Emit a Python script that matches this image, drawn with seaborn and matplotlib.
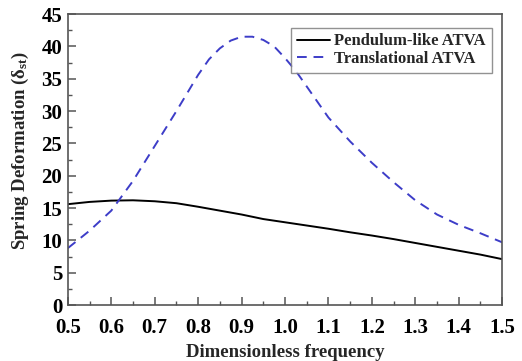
import numpy as np
import pandas as pd
import matplotlib
matplotlib.use("Agg")
import matplotlib.pyplot as plt
import seaborn as sns
from matplotlib.ticker import MultipleLocator

# Dimensionless frequency grid
freq = [0.50, 0.55, 0.60, 0.65, 0.70, 0.75, 0.80, 0.825, 0.85, 0.875, 0.90, 0.925,
        0.95, 0.975, 1.00, 1.025, 1.05, 1.10, 1.15, 1.20, 1.25, 1.30, 1.35, 1.40,
        1.45, 1.50]

# Spring deformation of the pendulum-like absorber
pendulum = [15.6, 15.95, 16.15, 16.2, 16.05, 15.75, 15.2, 14.9, 14.6, 14.3, 14.0, 13.65,
            13.3, 13.05, 12.8, 12.55, 12.3, 11.8, 11.25, 10.75, 10.2, 9.6, 9.0, 8.4,
            7.8, 7.1]

# Spring deformation of the translational absorber
translational = [8.8, 11.5, 14.6, 19.2, 24.6, 30.0, 35.6, 38.0, 39.7, 40.9, 41.5, 41.5,
                 41.0, 40.0, 38.2, 36.2, 33.8, 29.0, 25.3, 22.0, 19.0, 16.2, 14.0, 12.4,
                 11.1, 9.7]

series_names = ["Pendulum-like ATVA", "Translational ATVA"]
x_ticks = [0.5, 0.6, 0.7, 0.8, 0.9, 1.0, 1.1, 1.2, 1.3, 1.4, 1.5]
y_ticks = [0, 5, 10, 15, 20, 25, 30, 35, 40, 45]

df = pd.DataFrame({
    "freq": freq * 2,
    "value": pendulum + translational,
    "series": [series_names[0]] * len(freq) + [series_names[1]] * len(freq),
})

sns.set_theme(style="ticks")
plt.rcParams["font.family"] = ["Liberation Serif", "DejaVu Serif"]
plt.rcParams["font.weight"] = "bold"
plt.rcParams["mathtext.fontset"] = "custom"
plt.rcParams["mathtext.rm"] = "Liberation Serif:bold"
plt.rcParams["mathtext.it"] = "Liberation Serif:bold"
plt.rcParams["mathtext.bf"] = "Liberation Serif:bold"

fig = plt.figure(figsize=(5.22, 3.61), dpi=100)
ax = fig.add_axes([0.130, 0.155, 0.832, 0.806])

sns.lineplot(data=df, x="freq", y="value", hue="series", style="series",
             palette={series_names[0]: "black", series_names[1]: "#3d3dc8"},
             dashes={series_names[0]: "", series_names[1]: (5, 3.5)},
             linewidth=1.4, ax=ax, legend=True)

ax.set_xlim(0.5, 1.5)
ax.set_ylim(0, 45)
ax.set_xticks(x_ticks)
ax.set_xticklabels([f"{t:.1f}" for t in x_ticks])
ax.set_yticks(y_ticks)
ax.set_yticklabels([str(t) for t in y_ticks])
ax.xaxis.set_minor_locator(MultipleLocator(0.05))
ax.yaxis.set_minor_locator(MultipleLocator(2.5))

spine_color = "#555555"
for s in ax.spines.values():
    s.set_visible(True)
    s.set_color(spine_color)
    s.set_linewidth(1.2)

ax.tick_params(axis="both", which="major", direction="in", length=6, width=1.1,
               color=spine_color, labelcolor="black", labelsize=15,
               bottom=True, left=True, top=False, right=False)
ax.tick_params(axis="x", which="major", pad=9)
ax.tick_params(axis="y", which="major", pad=4)
ax.tick_params(axis="both", which="minor", direction="in", length=3, width=1.0,
               color=spine_color, bottom=True, left=True, top=False, right=False)
for lbl in ax.get_xticklabels() + ax.get_yticklabels():
    lbl.set_fontweight("bold")

ax.set_xlabel("Dimensionless frequency", fontsize=13.5, fontweight="bold")
ax.xaxis.set_label_coords(0.5, -0.135)
ax.set_ylabel(r"Spring Deformation ($\delta_{st}$)", fontsize=13.5, fontweight="bold")
ax.yaxis.set_label_coords(-0.085, 0.53)

leg = ax.legend(loc="upper right", fontsize=12, frameon=True, fancybox=False,
                edgecolor="#777777", handlelength=2.0, handletextpad=0.25,
                borderpad=0.35, labelspacing=0.1, bbox_to_anchor=(0.995, 0.982))
leg.get_frame().set_linewidth(1.0)
for t in leg.get_texts():
    t.set_fontweight("bold")

fig.savefig("out.png", dpi=100)
